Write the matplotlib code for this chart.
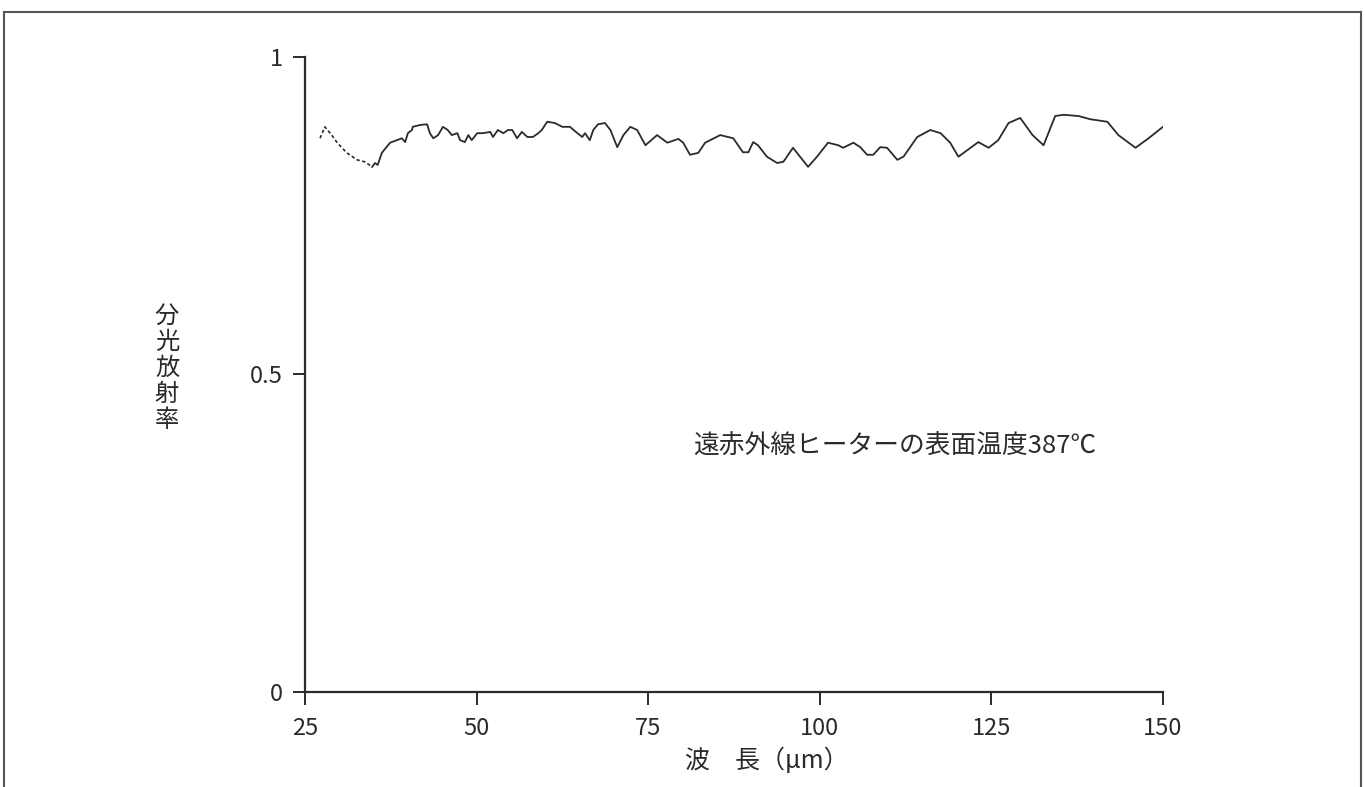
import matplotlib
matplotlib.use("Agg")
import matplotlib.pyplot as plt
from matplotlib.lines import Line2D

plt.rcParams['font.family'] = ['Noto Sans CJK JP', 'DejaVu Sans']

# ── data ──────────────────────────────────────────────────────
wl_start = [27.2, 27.9, 28.9, 29.7, 31.1, 32.6, 33.7, 34.8]
em_start = [0.872, 0.890, 0.877, 0.865, 0.849, 0.838, 0.835, 0.827]

wavelength = [
    34.8, 35.2, 35.6, 36.2, 37.4, 38.4, 39.1, 39.6, 40.0, 40.6, 40.7,
    41.8, 42.8, 43.2, 43.7, 44.4, 45.1, 45.8, 46.4, 47.2, 47.6, 48.3,
    48.8, 49.3, 50.1, 50.9, 52.0, 52.4, 53.1, 53.9, 54.6, 55.2, 55.9,
    56.6, 57.4, 58.2, 59.0, 59.5, 60.3, 61.4, 62.5, 63.6, 64.7, 65.4,
    65.8, 66.5, 67.0, 67.7, 68.7, 69.5, 70.5, 71.4, 72.4, 73.4, 74.6,
    76.3, 77.8, 79.4, 80.1, 81.1, 82.3, 83.3, 85.5, 87.4, 88.8, 89.6,
    90.3, 91.0, 92.3, 93.8, 94.7, 96.1, 98.3, 99.6, 101.2, 102.7, 103.4,
    104.9, 105.9, 106.9, 107.8, 108.8, 109.8, 111.3, 112.2, 114.2, 116.1,
    117.6, 119.0, 120.2, 123.1, 124.6, 126.0, 127.5, 129.2, 131.0, 132.6,
    134.3, 135.5, 137.7, 139.4, 141.9, 143.5, 146.0, 147.9, 150.0,
]
emissivity = [
    0.827, 0.833, 0.830, 0.849, 0.865, 0.869, 0.872, 0.866, 0.880, 0.885, 0.890,
    0.893, 0.894, 0.880, 0.872, 0.877, 0.890, 0.885, 0.877, 0.880, 0.869, 0.866,
    0.877, 0.869, 0.880, 0.880, 0.882, 0.874, 0.885, 0.880, 0.885, 0.885, 0.872,
    0.882, 0.874, 0.874, 0.880, 0.885, 0.898, 0.896, 0.890, 0.890, 0.880, 0.874,
    0.880, 0.869, 0.885, 0.894, 0.896, 0.885, 0.858, 0.877, 0.890, 0.885, 0.861,
    0.877, 0.865, 0.871, 0.865, 0.846, 0.849, 0.865, 0.877, 0.872, 0.850, 0.850,
    0.866, 0.861, 0.843, 0.833, 0.835, 0.857, 0.827, 0.843, 0.865, 0.861, 0.857,
    0.865, 0.858, 0.846, 0.846, 0.858, 0.857, 0.838, 0.843, 0.874, 0.885,
    0.880, 0.865, 0.843, 0.866, 0.857, 0.869, 0.896, 0.904, 0.877, 0.861,
    0.907, 0.909, 0.907, 0.902, 0.898, 0.877, 0.857, 0.872, 0.890,
]

x_ticks = [25, 50, 75, 100, 125, 150]
y_ticks = [0, 0.5, 1]
y_ticklabels = ["0", "0.5", "1"]

INK = "#2b2b2b"

fig = plt.figure(figsize=(13.65, 7.87), dpi=100, facecolor="white")
ax = fig.add_axes([0.2234, 0.1207, 0.6286, 0.8069])

ax.plot(wl_start, em_start, color=INK, lw=1.2, ls=(0, (2, 1.5)))
ax.plot(wavelength, emissivity, color=INK, lw=1.3)

ax.set_xlim(25, 150)
ax.set_ylim(0, 1)
ax.set_xticks(x_ticks)
ax.set_yticks(y_ticks)
ax.set_yticklabels(y_ticklabels)
for side in ("top", "right"):
    ax.spines[side].set_visible(False)
for side in ("left", "bottom"):
    ax.spines[side].set_color(INK)
    ax.spines[side].set_linewidth(1.6)
ax.tick_params(direction="out", length=9, width=1.4, color=INK,
               labelsize=17, labelcolor=INK)
ax.tick_params(axis="x", pad=9)
ax.tick_params(axis="y", pad=7)

ax.text(81.6, 0.386, "遠赤外線ヒーターの表面温度387℃", fontsize=18.5,
        color=INK, ha="left", va="center")

fig.text(167 / 1365, 1 - 368 / 787, "\n".join("分光放射率"), fontsize=17.5,
         color=INK, ha="center", va="center", linespacing=1.0)
fig.text(767 / 1365, 1 - 761 / 787, "波　長（μm）", fontsize=18,
         color=INK, ha="center", va="center")

# outer frame
for xs, ys in [([0.003, 0.003], [0.0, 0.985]),
               ([0.003, 0.997], [0.985, 0.985]),
               ([0.997, 0.997], [0.0, 0.985])]:
    fig.add_artist(Line2D(xs, ys, transform=fig.transFigure, color="#555555", lw=1.5))

fig.savefig("out.png", dpi=100, facecolor="white")
